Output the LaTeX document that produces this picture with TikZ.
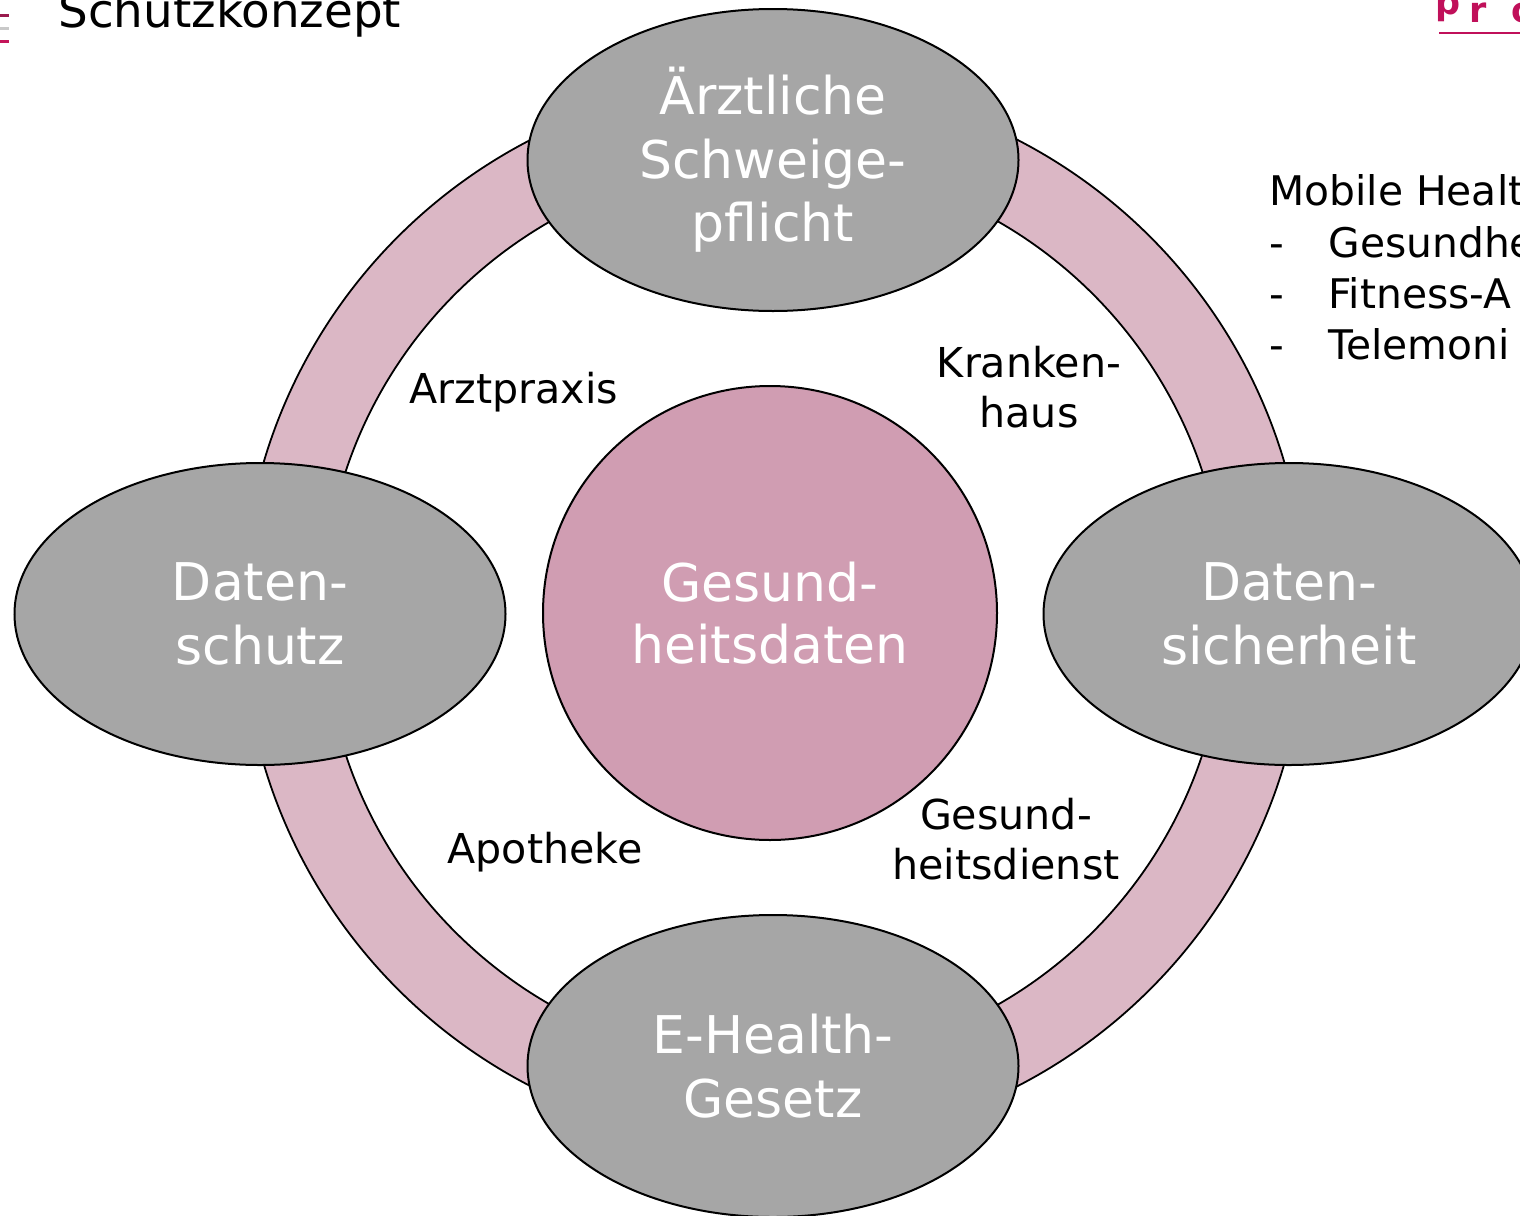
\documentclass[tikz,border=0pt]{standalone}
\usepackage{fontspec}
\setmainfont{DejaVu Sans}
\usetikzlibrary{shapes.geometric}
\definecolor{ringpink}{RGB}{219,183,197}
\definecolor{corepink}{RGB}{208,157,178}
\definecolor{ellgray}{RGB}{166,166,166}
\definecolor{logomag}{RGB}{192,16,90}
\definecolor{markdark}{RGB}{154,28,78}
\definecolor{markgray}{RGB}{201,201,201}
\definecolor{markmag}{RGB}{196,21,90}
\begin{document}
\begin{tikzpicture}[x=0.5pt,y=-0.5pt,
  pillar/.style={ellipse, draw=black, line width=1pt, fill=ellgray,
    minimum width=245.5pt, minimum height=151pt, inner sep=0pt,
    text=white, align=center, font=\fontsize{26}{31.7}\selectfont},
  core/.style={circle, draw=black, line width=1pt, fill=corepink,
    minimum size=227pt, inner sep=0pt, text=white, align=center,
    font=\fontsize{26}{31}\selectfont},
  lbl/.style={font=\fontsize{20.6}{25}\selectfont, align=center, inner sep=0pt},
  side/.style={font=\fontsize{20.4}{25}\selectfont, anchor=base west, inner sep=0pt},
  logoletter/.style={anchor=base west, inner sep=0pt, text=logomag,
    font=\bfseries\fontsize{17.5}{20}\selectfont},
]
\useasboundingbox (0,0) rectangle (1520,1215);
\clip (0,0) rectangle (1520,1215);
% header marks
\fill[markdark] (0,14) rectangle (9,17);
\fill[markgray] (0,27) rectangle (9,30);
\fill[markmag] (0,40) rectangle (9,43);
\node[anchor=base west, inner sep=0pt, font=\fontsize{23.4}{27}\selectfont] (title) at (58,27) {Schutzkonzept};
% logo
\node[logoletter] (logoP) at (1435,14) {p};
\node[logoletter] (logoR) at (1469,23) {r};
\node[logoletter] (logoO) at (1511,23) {o};
\coordinate (ulA) at (1439,33);
\coordinate (ulB) at (1520,33);
\draw[logomag, line width=0.8pt] (ulA) -- (ulB);
% ring
\fill[ringpink, even odd rule] (774,613) circle[radius=266pt] (774,613) circle[radius=225.5pt];
\draw[black, line width=0.9pt] (774,613) circle[radius=266pt];
\draw[black, line width=0.9pt] (774,613) circle[radius=225.5pt];
% pillars
\node[pillar] (top) at (773,160) {Ärztliche\\Schweige-\\pflicht};
\node[pillar] (left) at (260,614) {Daten-\\schutz};
\node[pillar] (right) at (1289,614) {Daten-\\sicherheit};
\node[pillar] (bottom) at (773,1066) {E-Health-\\Gesetz};
% core
\node[core] (core) at (770,613) {Gesund-\\heitsdaten};
% labels
\node[lbl, anchor=base] (arzt) at (514,403) {Arztpraxis};
\node[lbl] (kh) at (1029,387.5) {Kranken-\\haus};
\node[lbl, anchor=base] (apo) at (545,863) {Apotheke};
\node[lbl] (gd) at (1006,839.5) {Gesund-\\heitsdienst};
% side text
\node[side] (mh) at (1269,205) {Mobile Healt};
\node[side] (s1) at (1269,257) {\makebox[29.5pt][l]{-}Gesundhe};
\node[side] (s2) at (1269,308) {\makebox[29.5pt][l]{-}Fitness-A};
\node[side] (s3) at (1269,359) {\makebox[29.5pt][l]{-}Telemoni};
\end{tikzpicture}
\end{document}
